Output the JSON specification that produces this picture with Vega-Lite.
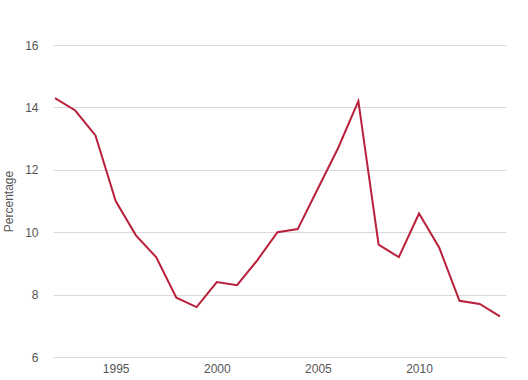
{
  "$schema": "https://vega.github.io/schema/vega-lite/v6.json",
  "width": 453,
  "height": 312,
  "autosize": {"type": "none"},
  "padding": {"left": 53, "top": 45, "right": 22, "bottom": 23},
  "background": "white",
  "config": {
    "view": {"stroke": null},
    "axis": {"labelFont": "Liberation Sans", "titleFont": "Liberation Sans", "labelColor": "#555555", "titleColor": "#555555", "labelFontSize": 12, "titleFontSize": 12, "titleFontWeight": "normal"}
  },
  "data": {
    "values": [
      {"year": 1992, "value": 14.3},
      {"year": 1993, "value": 13.9},
      {"year": 1994, "value": 13.1},
      {"year": 1995, "value": 11.0},
      {"year": 1996, "value": 9.9},
      {"year": 1997, "value": 9.2},
      {"year": 1998, "value": 7.9},
      {"year": 1999, "value": 7.6},
      {"year": 2000, "value": 8.4},
      {"year": 2001, "value": 8.3},
      {"year": 2002, "value": 9.1},
      {"year": 2003, "value": 10.0},
      {"year": 2004, "value": 10.1},
      {"year": 2005, "value": 11.4},
      {"year": 2006, "value": 12.7},
      {"year": 2007, "value": 14.2},
      {"year": 2008, "value": 9.6},
      {"year": 2009, "value": 9.2},
      {"year": 2010, "value": 10.6},
      {"year": 2011, "value": 9.5},
      {"year": 2012, "value": 7.8},
      {"year": 2013, "value": 7.7},
      {"year": 2014, "value": 7.3}
    ]
  },
  "mark": {"type": "line", "color": "#b8203b", "strokeWidth": 2},
  "encoding": {
    "x": {
      "field": "year", "type": "quantitative",
      "scale": {"domain": [1991.9, 2014.3], "nice": false, "zero": false},
      "axis": {"values": [1995, 2000, 2005, 2010], "format": "d", "title": null, "grid": false, "ticks": false, "domain": false, "labelPadding": 6}
    },
    "y": {
      "field": "value", "type": "quantitative",
      "scale": {"domain": [6, 16], "nice": false, "zero": false},
      "axis": {"values": [6, 8, 10, 12, 14, 16], "title": "Percentage", "grid": true, "gridColor": "#d9d9d9", "ticks": false, "domain": false, "labelPadding": 15, "titlePadding": 9}
    }
  }
}
